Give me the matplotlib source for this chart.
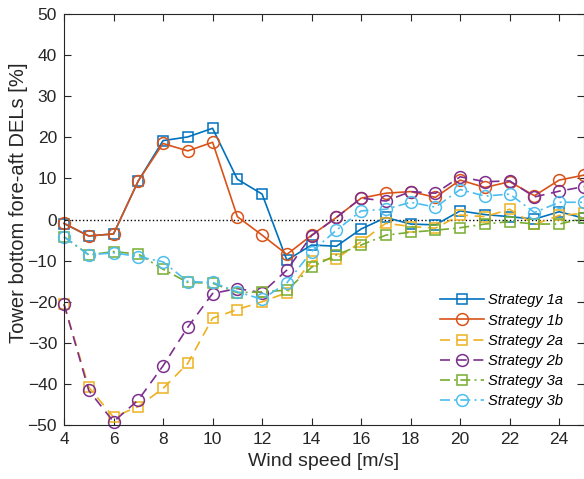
import numpy as np
import matplotlib
matplotlib.use('Agg')
import matplotlib.pyplot as plt

plt.rcParams['font.family'] = ['Liberation Sans', 'DejaVu Sans']

ws = np.arange(4, 26)

s1a = [-1.0, -4.0, -3.5, 9.4, 19.2, 20.1, 22.2, 9.8, 6.2, -9.9, -6.2, -6.5,
       -2.3, 0.5, -1.1, -1.3, 2.1, 1.2, 0.7, 0.1, 1.9, 0.3]
s1b = [-0.9, -4.0, -3.5, 9.4, 18.5, 16.7, 18.8, 0.7, -3.8, -8.5, -3.8, 0.5,
       5.2, 6.4, 6.8, 5.4, 9.6, 7.8, 9.2, 5.8, 9.6, 10.8]
s2a = [-20.6, -40.8, -48.1, -45.5, -41.1, -35.0, -24.0, -21.9, -20.0, -17.8, -10.1, -9.5,
       -5.4, -0.9, -1.7, -2.1, 1.1, 0.7, 2.5, -1.2, 1.0, 1.5]
s2b = [-20.6, -41.6, -49.2, -43.9, -35.6, -26.2, -18.0, -16.8, -17.8, -12.3, -3.9, 0.5,
       5.2, 4.5, 6.8, 6.4, 10.4, 9.2, 9.4, 5.5, 6.9, 8.0]
s3a = [-4.2, -8.6, -7.8, -8.4, -12.1, -15.3, -15.5, -17.8, -17.6, -17.2, -11.6, -8.6,
       -6.2, -3.8, -3.1, -2.6, -2.0, -1.1, -0.5, -1.1, -1.1, 0.3]
s3b = [-4.2, -8.6, -8.1, -9.0, -10.3, -15.1, -15.3, -17.6, -19.4, -15.4, -7.8, -2.6,
       2.1, 2.5, 4.2, 3.0, 7.3, 5.7, 6.2, 1.7, 4.2, 4.2]

labels = ['Strategy 1a', 'Strategy 1b', 'Strategy 2a', 'Strategy 2b',
          'Strategy 3a', 'Strategy 3b']
series = [s1a, s1b, s2a, s2b, s3a, s3b]
colors = ['#0072BD', '#D95319', '#EDB120', '#7E2F8E', '#77AC30', '#4DBEEE']
styles = ['-', '-', (0, (6, 4)), (0, (6, 4)), (0, (6, 2.5, 1.2, 2.5)), (0, (6, 2.5, 1.2, 2.5))]
markers = ['s', 'o', 's', 'o', 's', 'o']
msizes = [7, 8.5, 7, 8.5, 7, 8.5]

fig = plt.figure(figsize=(5.84, 4.79), dpi=100)
ax = fig.add_axes([0.1096, 0.1127, 0.8904, 0.858])

ax.plot([4, 25], [0, 0], ':', color='k', lw=1.0)

for y, lab, c, ls, m, ms in zip(series, labels, colors, styles, markers, msizes):
    ax.plot(ws, y, linestyle=ls, color=c, marker=m, markersize=ms,
            markerfacecolor='none', markeredgewidth=1.1, lw=1.2, label=lab,
            clip_on=False)

ax.set_xlim(4, 25)
ax.set_ylim(-50, 50)
ax.set_xticks(np.arange(4, 25, 2))
ax.set_yticks(np.arange(-50, 51, 10))
ax.tick_params(direction='in', top=True, right=True, length=5, width=0.8,
               labelsize=12.5, colors='#262626', pad=5)
for sp in ax.spines.values():
    sp.set_color('#262626')
    sp.set_linewidth(0.8)

ax.set_xlabel('Wind speed [m/s]', fontsize=14, color='#262626', labelpad=4)
ax.set_ylabel('Tower bottom fore-aft DELs [%]', fontsize=14.5, color='#262626')
ax.yaxis.set_label_coords(-0.07, 0.54)

leg = ax.legend(loc='lower right', frameon=False,
                prop={'style': 'italic', 'size': 10.5}, handlelength=3.0,
                labelspacing=0.42, handletextpad=0.3, borderaxespad=0.4)
leg.set_bbox_to_anchor((0.982, 0.013), transform=ax.transAxes)

plt.savefig('out.png', dpi=100)
